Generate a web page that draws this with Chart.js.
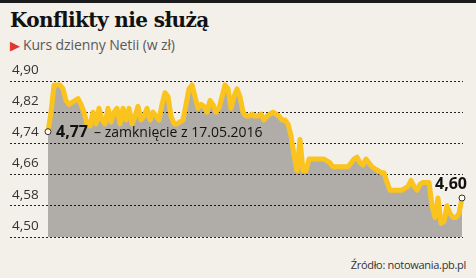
<!DOCTYPE html>
<html>
<head>
<meta charset="utf-8">
<script src="https://cdn.jsdelivr.net/npm/chart.js@4.4.1/dist/chart.umd.min.js"></script>
<style>
  body { margin: 0; background: #f3efe9; }
  #box { position: relative; width: 476px; height: 278px; overflow: hidden; background: #f3efe9; }
  #bar { position: absolute; left: 0; top: 0; width: 476px; height: 3px; background: #1b1b1b; }
  #title { position: absolute; left: 10px; top: 8px; font: bold 20px "DejaVu Serif", serif; letter-spacing: -0.6px; color: #111; }
  #sub { position: absolute; left: 10px; top: 35px; font: 14px "Open Sans", sans-serif; color: #5a5a5a; letter-spacing: -0.1px; }
  #sub span { color: #e2382b; font-size: 13px; margin-right: 3px; }
  #src { position: absolute; right: 10px; top: 257px; font: 11px "Open Sans", sans-serif; color: #333; letter-spacing: -0.3px; }
  canvas { position: absolute; left: 0; top: 0; }
</style>
</head>
<body>
<div id="box">
  <div id="bar"></div>
  <div id="title">Konflikty nie służą</div>
  <div id="sub"><span>&#9654;</span>Kurs dzienny Netii (w zł)</div>
  <div id="src">Źródło: notowania.pb.pl</div>
  <canvas id="chart" width="476" height="278"></canvas>
</div>
<script>
// kurs Netii od 17.05.2016
const startDate = "17.05.2016";
const prices = [
  4.77, 4.82, 4.89, 4.89, 4.89, 4.88, 4.85, 4.84, 4.845, 4.85,
  4.855, 4.84, 4.82, 4.79, 4.785, 4.82, 4.79, 4.83, 4.80, 4.79,
  4.83, 4.795, 4.82, 4.83, 4.79, 4.83, 4.80, 4.83, 4.79, 4.81,
  4.835, 4.80, 4.81, 4.83, 4.80, 4.82, 4.81, 4.80, 4.84, 4.87,
  4.86, 4.81, 4.79, 4.79, 4.795, 4.80, 4.84, 4.88, 4.89, 4.86,
  4.83, 4.84, 4.835, 4.82, 4.85, 4.84, 4.82, 4.83, 4.86, 4.89,
  4.88, 4.83, 4.86, 4.88, 4.86, 4.82, 4.81, 4.81, 4.815, 4.81,
  4.81, 4.815, 4.80, 4.81, 4.815, 4.82, 4.815, 4.81, 4.80, 4.80,
  4.79, 4.76, 4.71, 4.67, 4.75, 4.67, 4.67, 4.70, 4.70, 4.70,
  4.70, 4.70, 4.70, 4.695, 4.69, 4.68, 4.68, 4.68, 4.68, 4.68,
  4.68, 4.69, 4.70, 4.705, 4.69, 4.685, 4.70, 4.69, 4.68, 4.675,
  4.67, 4.665, 4.665, 4.64, 4.62, 4.62, 4.62, 4.62, 4.62, 4.625,
  4.63, 4.645, 4.63, 4.62, 4.635, 4.64, 4.64, 4.64, 4.58, 4.55,
  4.60, 4.535, 4.54, 4.58, 4.56, 4.55, 4.55, 4.56, 4.60
];
const yTicks = [4.50, 4.58, 4.66, 4.74, 4.82, 4.90];

const fmt = v => v.toFixed(2).replace(".", ",");
const last = prices.length - 1;

const labelsPlugin = {
  id: "labels",
  afterDatasetsDraw(chart) {
    const pts = chart.getDatasetMeta(0).data;
    const a = pts[0], b = pts[last];
    const c = chart.ctx;
    c.save();
    c.fillStyle = "#111";
    c.textBaseline = "middle";
    c.font = 'bold 16px "Open Sans"';
    c.fillText(fmt(prices[0]), a.x + 8, a.y + 1);
    const w = c.measureText(fmt(prices[0])).width;
    c.font = '14px "Open Sans"';
    c.fillText("– zamknięcie z " + startDate, a.x + 8 + w + 6, a.y + 1);
    c.font = 'bold 16px "Open Sans"';
    c.textAlign = "right";
    c.fillText(fmt(prices[last]), b.x + 5, b.y - 14);
    c.restore();
  }
};

new Chart(document.getElementById("chart"), {
  type: "line",
  data: {
    datasets: [{
      data: prices.map((v, i) => ({ x: i, y: v })),
      borderColor: "#fbc31d",
      borderWidth: 5,
      borderJoinStyle: "round",
      backgroundColor: "rgba(0,0,0,0.275)",
      fill: "start",
      tension: 0,
      clip: false,
      pointRadius: ctx => (ctx.dataIndex === 0 || ctx.dataIndex === last) ? 3 : 0,
      pointBackgroundColor: "#fffbe8",
      pointBorderColor: "#333",
      pointBorderWidth: 1
    }]
  },
  options: {
    responsive: false,
    animation: false,
    layout: { padding: { left: 10, right: 13, top: 81, bottom: 41 } },
    plugins: { legend: { display: false }, tooltip: { enabled: false } },
    scales: {
      x: { type: "linear", display: false, min: -12.67, max: last + 0.33 },
      y: {
        min: 4.5,
        max: 4.9,
        afterBuildTicks: s => { s.ticks = yTicks.map(v => ({ value: v })); },
        afterFit: s => { s.width = 0; },
        grid: { color: "#222", lineWidth: 1, drawTicks: false },
        border: { display: false, dash: [2, 2] },
        ticks: {
          mirror: true,
          padding: 2,
          labelOffset: -11,
          color: "#333",
          font: { family: "Open Sans", size: 13.5 },
          callback: v => fmt(v)
        }
      }
    }
  },
  plugins: [labelsPlugin]
});
</script>
</body>
</html>
